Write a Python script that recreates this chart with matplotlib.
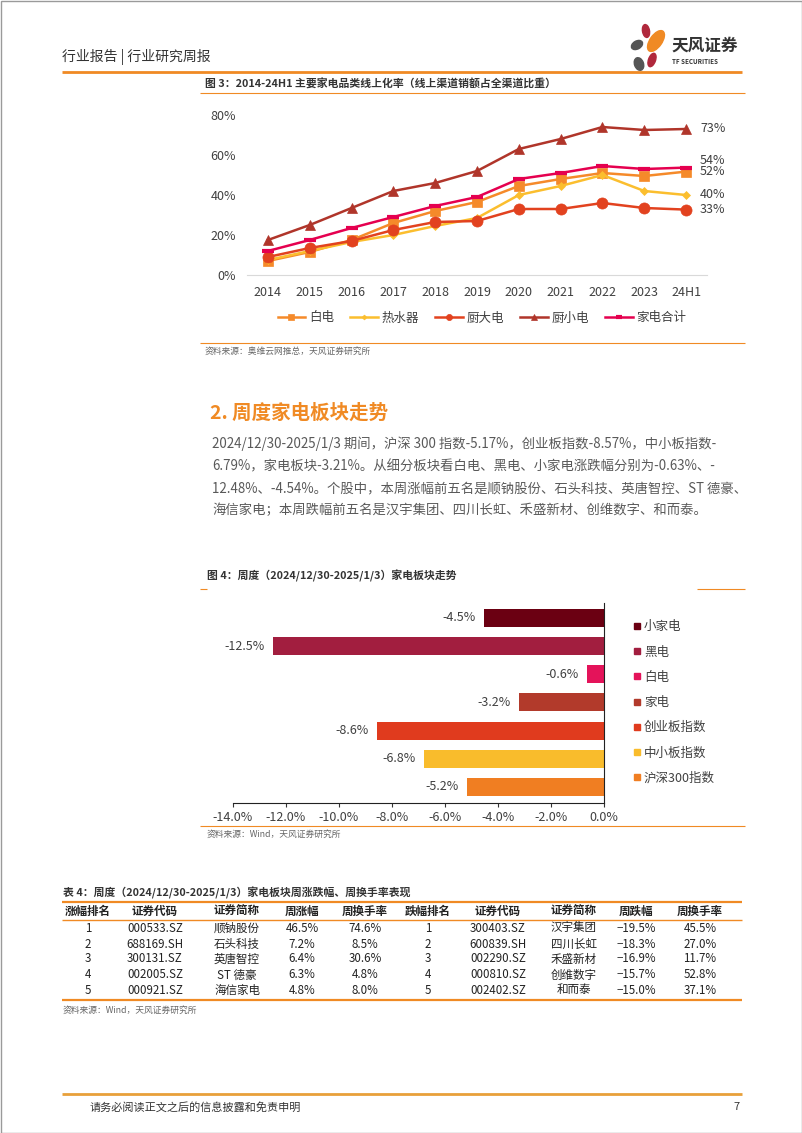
import matplotlib
matplotlib.use("Agg")
import matplotlib.pyplot as plt
from matplotlib.lines import Line2D
from matplotlib.patches import Ellipse, Rectangle

plt.rcParams['font.family'] = ['Noto Sans CJK SC', 'DejaVu Sans']

W, H = 802, 1133
ORANGE = '#F08A24'
TXT = '#404040'

# --- figure 3 data: online share by category ---
years = ['2014', '2015', '2016', '2017', '2018', '2019', '2020', '2021', '2022', '2023', '24H1']
baidian = [7, 11.5, 17.5, 26, 32, 36.5, 44.5, 48, 51, 49.5, 51.7]
reshuiqi = [7.5, 12, 16.5, 20, 24.5, 28.5, 40, 44.5, 50, 42, 40]
chudadian = [9, 13.5, 17, 22.5, 26.5, 27, 33, 33, 36, 33.5, 32.7]
chuxiaodian = [17.5, 25, 33.5, 42, 46, 52, 63, 68, 74, 72.5, 73]
jiadian_total = [12, 17.5, 23.5, 29, 34.5, 39, 48, 51, 54.5, 53, 53.7]

# --- figure 4 data: weekly sector moves (%) ---
sectors = ['小家电', '黑电', '白电', '家电', '创业板指数', '中小板指数', '沪深300指数']
sector_chg = [-4.54, -12.48, -0.63, -3.21, -8.57, -6.79, -5.17]
sector_colors = ['#6B0012', '#A21E3F', '#E4135A', '#B23A2B', '#E03B1E', '#F9BC2C', '#F07E22']

# --- table 4 data ---
tbl_header = ['涨幅排名', '证券代码', '证券简称', '周涨幅', '周换手率',
              '跌幅排名', '证券代码', '证券简称', '周跌幅', '周换手率']
up_rank = ['1', '2', '3', '4', '5']
up_code = ['000533.SZ', '688169.SH', '300131.SZ', '002005.SZ', '000921.SZ']
up_name = ['顺钠股份', '石头科技', '英唐智控', 'ST 德豪', '海信家电']
up_chg = ['46.5%', '7.2%', '6.4%', '6.3%', '4.8%']
up_turn = ['74.6%', '8.5%', '30.6%', '4.8%', '8.0%']
dn_rank = ['1', '2', '3', '4', '5']
dn_code = ['300403.SZ', '600839.SH', '002290.SZ', '000810.SZ', '002402.SZ']
dn_name = ['汉宇集团', '四川长虹', '禾盛新材', '创维数字', '和而泰']
dn_chg = ['−19.5%', '−18.3%', '−16.9%', '−15.7%', '−15.0%']
dn_turn = ['45.5%', '27.0%', '11.7%', '52.8%', '37.1%']

paragraph = [
    '2024/12/30-2025/1/3 期间，沪深 300 指数-5.17%，创业板指数-8.57%，中小板指数-',
    '6.79%，家电板块-3.21%。从细分板块看白电、黑电、小家电涨跌幅分别为-0.63%、-',
    '12.48%、-4.54%。个股中，本周涨幅前五名是顺钠股份、石头科技、英唐智控、ST 德豪、',
    '海信家电；本周跌幅前五名是汉宇集团、四川长虹、禾盛新材、创维数字、和而泰。',
]

fig = plt.figure(figsize=(W / 100, H / 100), dpi=100)
fig.patch.set_facecolor('white')

# page layer in pixel coords (y down)
page = fig.add_axes([0, 0, 1, 1])
page.set_xlim(0, W)
page.set_ylim(H, 0)
page.axis('off')


def hline(y, x0, x1, color=ORANGE, lw=1.0):
    page.plot([x0, x1], [y, y], color=color, lw=lw, solid_capstyle='butt')


def axes_px(x0, y0, x1, y1):
    return fig.add_axes([x0 / W, 1 - y1 / H, (x1 - x0) / W, (y1 - y0) / H])


# page frame
page.add_patch(Rectangle((0.5, 0.5), W - 1, H - 1, fill=False, ec='#9a9a9a', lw=1))

# header
page.text(62, 57, '行业报告 | 行业研究周报', fontsize=10, color='#333333', va='center', weight='medium')
hline(72, 62, 742, lw=2)
# logo petals
page.add_patch(Ellipse((656, 41), 12, 24, angle=35, color='#F08A24'))
page.add_patch(Ellipse((646, 31), 7, 13, angle=-10, color='#B0283C'))
page.add_patch(Ellipse((652, 60), 7, 14, angle=20, color='#B0283C'))
page.add_patch(Ellipse((637, 45), 8, 12, angle=60, color='#555555'))
page.add_patch(Ellipse((639, 64), 9, 13, angle=-20, color='#555555'))
page.text(671, 46, '天风证券', fontsize=12, weight='bold', color='#333333', va='center')
page.text(672, 62, 'TF SECURITIES', fontsize=4.5, weight='bold', color='#333333', va='center')

# ---------------- figure 3 ----------------
page.text(205, 84, '图 3：2014-24H1 主要家电品类线上化率（线上渠道销额占全渠道比重）',
          fontsize=7.8, weight='bold', color='#333333', va='center')
hline(93, 200, 745, lw=0.8)

ax1 = axes_px(247, 115, 707, 275)
series = [
    ('白电', baidian, '#F58A2A', 's', 7, 0),
    ('热水器', reshuiqi, '#FBBE2E', 'D', 4.5, 0),
    ('厨大电', chudadian, '#E2421F', 'o', 8, 0),
    ('厨小电', chuxiaodian, '#B0352A', '^', 7, 0),
    ('家电合计', jiadian_total, '#E5004F', '_', 8, 5),
]
x = range(len(years))
for name, vals, col, mk, ms, dy in series:
    ax1.plot(x, vals, color=col, lw=1.8, marker=mk, markersize=ms,
             markeredgewidth=3 if mk == '_' else 0.5, markeredgecolor=col, label=name)
    ax1.annotate(f'{vals[-1]:.0f}%', (len(years) - 1, vals[-1]), xytext=(10, dy),
                 textcoords='offset points', va='center', ha='left', fontsize=9, color=TXT,
                 annotation_clip=False)
ax1.set_xlim(-0.5, len(years) - 0.5)
ax1.set_ylim(0, 80)
ax1.set_yticks([0, 20, 40, 60, 80])
ax1.set_yticklabels([f'{v}%' for v in [0, 20, 40, 60, 80]])
ax1.set_xticks(list(x))
ax1.set_xticklabels(years)
ax1.tick_params(length=0, labelsize=9, colors=TXT, pad=8)
for s in ['top', 'right', 'left']:
    ax1.spines[s].set_visible(False)
ax1.spines['bottom'].set_color('#D9D9D9')
ax1.patch.set_alpha(0)
fig.legend(*ax1.get_legend_handles_labels(), loc='center', bbox_to_anchor=(482 / W, 1 - 318 / H),
           ncol=5, frameon=False, fontsize=9, handlelength=2.2, columnspacing=1.3,
           handletextpad=0.3, markerscale=0.55, labelcolor=TXT)

hline(343, 200, 745, lw=0.8)
page.text(205, 351, '资料来源：奥维云网推总，天风证券研究所', fontsize=6.3, color='#666666', va='center')

# ---------------- section text ----------------
page.text(210, 413, '2. 周度家电板块走势', fontsize=14, color=ORANGE, va='center', weight='bold')
for i, line in enumerate(paragraph):
    page.text(212, 444 + i * 22, line, fontsize=9.6, color='#595959', va='center')

# ---------------- figure 4 ----------------
page.text(207, 576, '图 4：周度（2024/12/30-2025/1/3）家电板块走势',
          fontsize=7.8, weight='bold', color='#333333', va='center')
hline(589, 200, 207, lw=0.8)
hline(589, 697, 745, lw=0.8)

ax2 = axes_px(233, 603, 604, 803)
ypos = list(range(len(sectors)))
for yi, name, v, c in zip(ypos, sectors, sector_chg, sector_colors):
    ax2.barh(yi, v, height=0.64, color=c, label=name)
    ax2.annotate(f'{v:.1f}%', (v, yi), xytext=(-6, 0), textcoords='offset points',
                 ha='right', va='center', fontsize=9, color=TXT)
ax2.set_xlim(-14, 0)
ax2.set_ylim(6.57, -0.53)
ax2.set_xticks([-14, -12, -10, -8, -6, -4, -2, 0])
ax2.set_xticklabels([f'{t:.1f}%' for t in [-14, -12, -10, -8, -6, -4, -2, 0]])
ax2.set_yticks([])
ax2.tick_params(axis='x', length=3, width=0.8, labelsize=9, colors=TXT, pad=3)
ax2.tick_params(axis='x', color='#333333')
for s in ['top', 'left']:
    ax2.spines[s].set_visible(False)
ax2.spines['bottom'].set_color('#222222')
ax2.spines['right'].set_color('#222222')
ax2.patch.set_alpha(0)

handles = [Line2D([], [], marker='s', ls='', markersize=4.5, color=c) for c in sector_colors]
fig.legend(handles, sectors, loc='upper left', bbox_to_anchor=(619 / W, 1 - 609 / H),
           frameon=False, fontsize=9, handletextpad=0.1, labelspacing=0.98,
           handlelength=1.0, labelcolor=TXT)

hline(826, 200, 745, lw=0.8)
page.text(207, 834, '资料来源：Wind，天风证券研究所', fontsize=6.3, color='#666666', va='center')

# ---------------- table 4 ----------------
page.text(63, 893, '表 4：周度（2024/12/30-2025/1/3）家电板块周涨跌幅、周换手率表现',
          fontsize=7.8, weight='bold', color='#333333', va='center')
hline(902, 62, 742, lw=1.6)
hline(920, 62, 742, lw=1.0)
hline(1000, 62, 742, lw=1.6)

col_x = [88, 155, 237, 302, 365, 428, 498, 574, 636, 700]
for cx, h in zip(col_x, tbl_header):
    page.text(cx, 911, h, fontsize=8.3, weight='bold', color='#222222', ha='center', va='center')
columns = [up_rank, up_code, up_name, up_chg, up_turn, dn_rank, dn_code, dn_name, dn_chg, dn_turn]
row_y = [928, 944, 959, 975, 990]
for cx, col in zip(col_x, columns):
    for ry, val in zip(row_y, col):
        page.text(cx, ry, val, fontsize=8.3, color='#222222', ha='center', va='center')
page.text(63, 1010, '资料来源：Wind，天风证券研究所', fontsize=6.3, color='#666666', va='center')

# footer
hline(1094, 62, 742, color='#E8A03A', lw=2)
page.text(90, 1107, '请务必阅读正文之后的信息披露和免责申明', fontsize=8, color='#333333', va='center')
page.text(737, 1107, '7', fontsize=8, color='#333333', va='center', ha='center')

fig.savefig('out.png', dpi=100, facecolor='white')
